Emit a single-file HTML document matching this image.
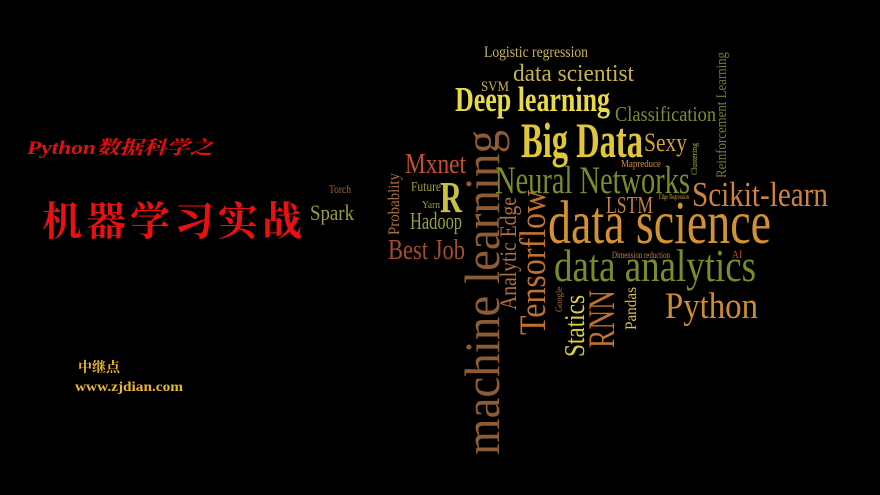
<!DOCTYPE html>
<html><head><meta charset="utf-8">
<style>
html,body{margin:0;padding:0;background:#000;}
svg{display:block;}
text{font-family:"Liberation Serif","Noto Serif CJK SC",serif;}
.cn{font-family:"Liberation Serif","Noto Serif CJK SC","Noto Sans CJK SC",serif;}
</style></head>
<body>
<svg width="880" height="495" viewBox="0 0 880 495" xmlns="http://www.w3.org/2000/svg">
<rect width="880" height="495" fill="#000"/>

<text class="cn" x="27" y="154" font-size="19" font-style="italic" font-weight="bold" fill="#e01010" textLength="186" lengthAdjust="spacingAndGlyphs">Python数据科学之</text>
<text class="cn" x="42" y="235" font-size="40" font-weight="bold" fill="#e81010" textLength="260" lengthAdjust="spacing">机器学习实战</text>
<text class="cn" x="78" y="372" font-size="14" font-weight="bold" fill="#e8b830">中继点</text>
<text x="75" y="391" font-size="14" font-weight="bold" fill="#e8b830" textLength="108" lengthAdjust="spacingAndGlyphs">www.zjdian.com</text>

<g>
<text x="484" y="57" font-size="16" fill="#c8b45a" textLength="104" lengthAdjust="spacingAndGlyphs">Logistic regression</text>
<text x="513" y="81" font-size="24" fill="#c8b44c" textLength="121" lengthAdjust="spacingAndGlyphs">data scientist</text>
<text x="481" y="91" font-size="15" fill="#c8b44c" textLength="28" lengthAdjust="spacingAndGlyphs">SVM</text>
<text x="455" y="111" font-size="35" font-weight="bold" fill="#e6da48" textLength="155" lengthAdjust="spacingAndGlyphs">Deep learning</text>
<text x="615" y="121" font-size="21" fill="#7e8c30" textLength="101" lengthAdjust="spacingAndGlyphs">Classification</text>
<text transform="translate(726,178) rotate(-90)" font-size="15" fill="#7a7a3a" textLength="126" lengthAdjust="spacingAndGlyphs">Reinforcement Learning</text>
<text x="521" y="157" font-size="50" font-weight="bold" fill="#e0c63a" textLength="122" lengthAdjust="spacingAndGlyphs">Big Data</text>
<text x="644" y="151" font-size="26" fill="#d4a232" textLength="43" lengthAdjust="spacingAndGlyphs">Sexy</text>
<text x="405" y="173" font-size="29" fill="#c45232" textLength="61" lengthAdjust="spacingAndGlyphs">Mxnet</text>
<text transform="translate(499,455) rotate(-90)" font-size="50" fill="#8c5c36" textLength="325" lengthAdjust="spacingAndGlyphs">machine learning</text>
<text x="621" y="167" font-size="10" fill="#c89040" textLength="40" lengthAdjust="spacingAndGlyphs">Mapreduce</text>
<text transform="translate(697,175) rotate(-90)" font-size="8" fill="#b0b040" textLength="32" lengthAdjust="spacingAndGlyphs">Clustering</text>
<text x="495" y="193" font-size="39" fill="#7a8c2a" textLength="195" lengthAdjust="spacingAndGlyphs">Neural Networks</text>
<text x="329" y="193" font-size="12" fill="#a46232" textLength="22" lengthAdjust="spacingAndGlyphs">Torch</text>
<text x="310" y="220" font-size="22" fill="#9c9c42" textLength="44" lengthAdjust="spacingAndGlyphs">Spark</text>
<text transform="translate(399,235) rotate(-90)" font-size="16" fill="#b07040" textLength="62" lengthAdjust="spacingAndGlyphs">Probablity</text>
<text x="411" y="191" font-size="14" fill="#9c9c42" textLength="30" lengthAdjust="spacingAndGlyphs">Future</text>
<text x="422" y="208" font-size="11" fill="#9c9c42" textLength="18" lengthAdjust="spacingAndGlyphs">Yarn</text>
<text x="440" y="212" font-size="44" font-weight="bold" fill="#c8c240" textLength="22" lengthAdjust="spacingAndGlyphs">R</text>
<text x="410" y="229" font-size="24" fill="#9c9c42" textLength="52" lengthAdjust="spacingAndGlyphs">Hadoop</text>
<text x="388" y="259" font-size="28" fill="#a44c32" textLength="77" lengthAdjust="spacingAndGlyphs">Best Job</text>
<text transform="translate(516,310) rotate(-90)" font-size="23" fill="#b07040" textLength="113" lengthAdjust="spacingAndGlyphs">Analytic Edge</text>
<text transform="translate(545,335) rotate(-90)" font-size="37" fill="#c07030" textLength="145" lengthAdjust="spacingAndGlyphs">Tensorflow</text>
<text x="606" y="213" font-size="24" fill="#c48240" textLength="47" lengthAdjust="spacingAndGlyphs">LSTM</text>
<text x="659" y="199" font-size="7" fill="#c8a040" textLength="30" lengthAdjust="spacingAndGlyphs">Edge Regression</text>
<text x="692" y="206" font-size="35" fill="#d08242" textLength="136" lengthAdjust="spacingAndGlyphs">Scikit-learn</text>
<text x="548" y="243" font-size="61" fill="#d29232" textLength="223" lengthAdjust="spacingAndGlyphs">data science</text>
<text x="612" y="258" font-size="9" fill="#c08040" textLength="58" lengthAdjust="spacingAndGlyphs">Dimension reduction</text>
<text x="732" y="258" font-size="12" fill="#c44232" textLength="10" lengthAdjust="spacingAndGlyphs">AI</text>
<text x="554" y="281" font-size="46" fill="#7a8c2a" textLength="202" lengthAdjust="spacingAndGlyphs">data analytics</text>
<text transform="translate(562,312) rotate(-90)" font-size="9" fill="#b07040" textLength="25" lengthAdjust="spacingAndGlyphs">Google</text>
<text transform="translate(584,357) rotate(-90)" font-size="29" fill="#d8d040" textLength="62" lengthAdjust="spacingAndGlyphs">Statics</text>
<text transform="translate(614,348) rotate(-90)" font-size="37" fill="#c07030" textLength="58" lengthAdjust="spacingAndGlyphs">RNN</text>
<text transform="translate(636,330) rotate(-90)" font-size="16" fill="#d8c252" textLength="43" lengthAdjust="spacingAndGlyphs">Pandas</text>
<text x="665" y="318" font-size="37" fill="#d08c32" textLength="93" lengthAdjust="spacingAndGlyphs">Python</text>
</g>
</svg>
</body></html>
